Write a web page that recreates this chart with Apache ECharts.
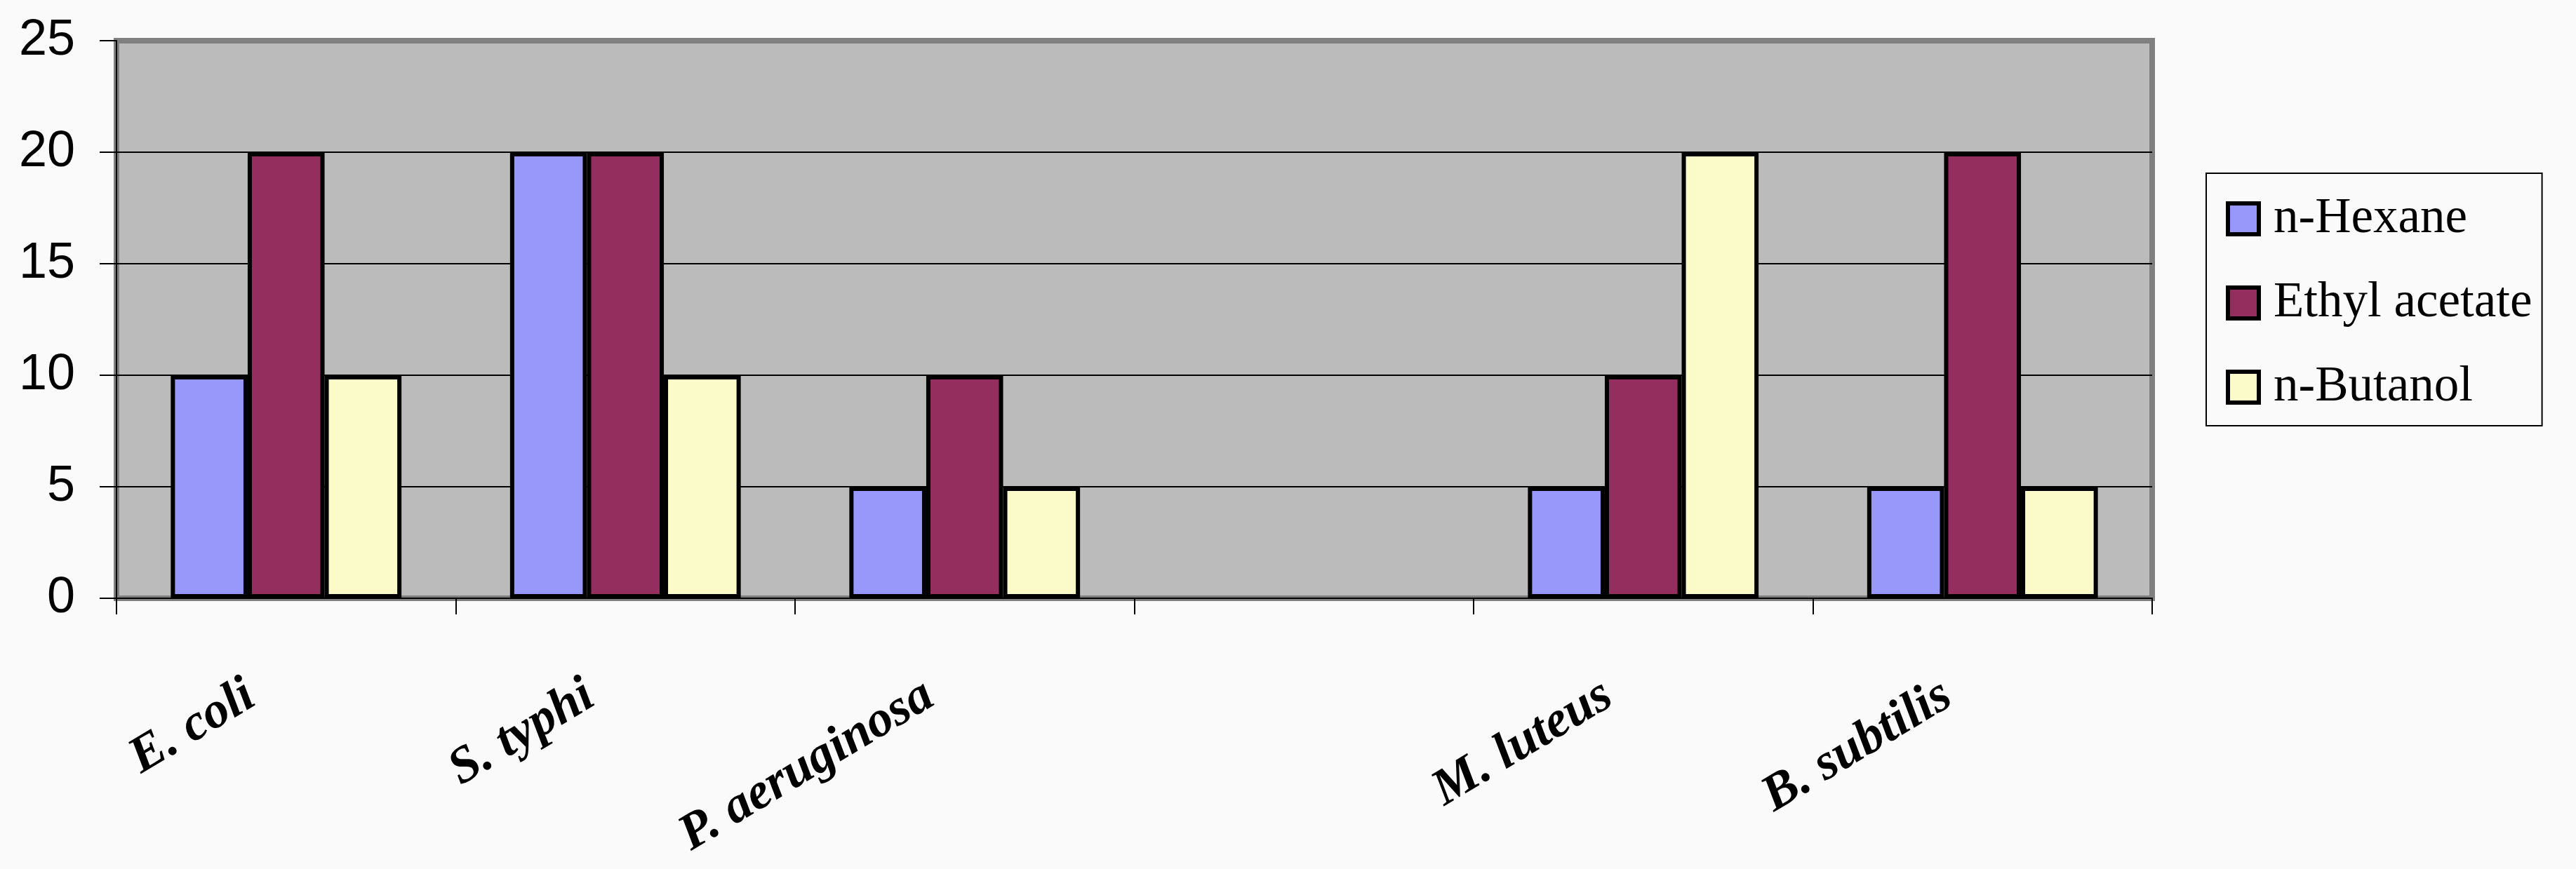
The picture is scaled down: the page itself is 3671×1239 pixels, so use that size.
<!DOCTYPE html>
<html>
<head>
<meta charset="utf-8">
<script src="https://cdn.jsdelivr.net/npm/echarts@6/dist/echarts.min.js"></script>
<style>
html,body{margin:0;padding:0;background:#FAFAFA;}
#chart{width:3671px;height:1239px;}
</style>
</head>
<body>
<div id="chart"></div>
<script>
const categories = ['E. coli', 'S. typhi', 'P. aeruginosa', '', 'M. luteus', 'B. subtilis'];
const seriesNames = ['n-Hexane', 'Ethyl acetate', 'n-Butanol'];
const hexane = [10, 20, 5, null, 5, 5];
const ethylAcetate = [20, 20, 10, null, 10, 20];
const butanol = [10, 10, 5, null, 20, 5];
const colors = ['#9898FA', '#932E5F', '#FBFAC9'];

const chart = echarts.init(document.getElementById('chart'), null, {renderer: 'canvas'});
const seriesData = [hexane, ethylAcetate, butanol];

chart.setOption({
  backgroundColor: '#FAFAFA',
  animation: false,
  grid: {
    left: 166, right: 604, top: 58, bottom: 386,
    outerBoundsMode: 'none',
    containLabel: false,
    show: true, backgroundColor: '#BBBBBB', borderColor: '#808080', borderWidth: 8
  },
  legend: {
    orient: 'vertical',
    left: 3144, top: 247,
    padding: [29, 14, 19, 28],
    itemGap: 48,
    itemWidth: 44, itemHeight: 44,
    borderColor: '#000', borderWidth: 2,
    icon: 'rect',
    itemStyle: {borderColor: '#000', borderWidth: 6},
    textStyle: {fontFamily: 'Liberation Serif', fontSize: 71, color: '#000', lineHeight: 72, padding: [0, 0, 0, 16]},
    data: seriesNames
  },
  xAxis: {
    type: 'category',
    data: categories,
    axisLine: {lineStyle: {color: '#000', width: 2}},
    axisTick: {show: true, length: 23, lineStyle: {color: '#000', width: 2}},
    axisLabel: {
      interval: 0, rotate: 31, margin: 104,
      padding: [0, 58, 0, 0],
      fontFamily: 'Liberation Serif', fontStyle: 'italic', fontWeight: 'bold',
      fontSize: 73, color: '#000'
    },
    splitLine: {show: false}
  },
  yAxis: {
    type: 'value', min: 0, max: 25, interval: 5,
    axisLine: {show: true, lineStyle: {color: '#000', width: 2}},
    axisTick: {show: true, length: 24, lineStyle: {color: '#000', width: 2}},
    axisLabel: {margin: 59, fontFamily: 'Liberation Sans', fontSize: 72, color: '#000'},
    splitLine: {show: true, showMaxLine: false, lineStyle: {color: '#000', width: 2}}
  },
  series: seriesNames.map((name, i) => ({
    name: name,
    type: 'bar',
    data: seriesData[i],
    barGap: '0%',
    barCategoryGap: '32%',
    itemStyle: {color: colors[i], borderColor: '#000', borderWidth: 6}
  }))
});
</script>
</body>
</html>
